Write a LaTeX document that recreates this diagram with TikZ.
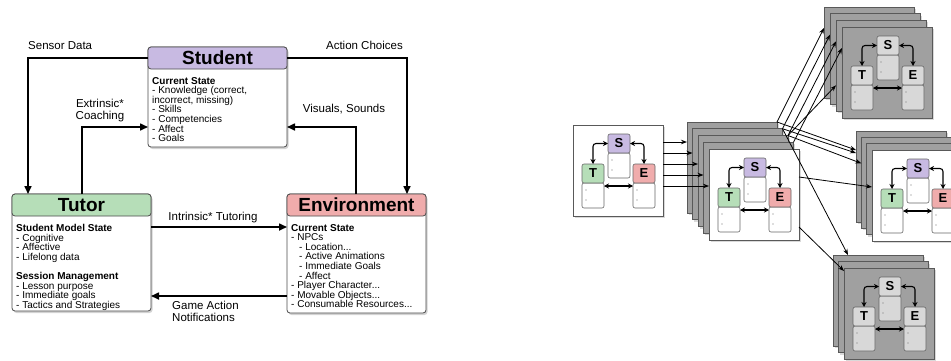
\documentclass[tikz,border=0pt]{standalone}
\usepackage{fontspec}
\setmainfont{Liberation Sans}
\usetikzlibrary{arrows.meta,shadows,calc}

\definecolor{stupurple}{RGB}{200,186,226}
\definecolor{tutgreen}{RGB}{182,222,184}
\definecolor{envpink}{RGB}{240,172,172}
\definecolor{stackgray}{RGB}{160,160,160}
\definecolor{minigray}{RGB}{216,216,216}

\tikzset{
  box/.style={draw=black!70, line width=0.8pt, rounded corners=3pt, fill=white,
    drop shadow={shadow xshift=1.5pt, shadow yshift=-2pt, opacity=0.35},
    minimum width=139pt, anchor=north west, inner sep=0pt, outer sep=0pt},
  head/.style={draw=black!70, line width=0.8pt, rounded corners=3pt,
    minimum width=139pt, minimum height=22pt, anchor=north west, inner sep=0pt,
    outer sep=0pt, font=\bfseries\fontsize{19}{19}\selectfont},
  body/.style={anchor=north west, align=left, inner sep=0pt,
    font=\fontsize{10}{9.6}\selectfont},
  lbl/.style={inner sep=0pt, font=\fontsize{11.5}{11.8}\selectfont},
  arr/.style={line width=1.6pt, -{Triangle[length=8pt,width=7pt]}},
  frame/.style={draw=black!65, line width=0.6pt, anchor=north west,
    minimum width=90pt, minimum height=91pt, inner sep=0pt, outer sep=0pt,
    drop shadow={shadow xshift=1.5pt, shadow yshift=-2pt, opacity=0.3}},
  minihead/.style={draw=black!60, line width=0.6pt, rounded corners=2pt,
    anchor=north west, minimum width=22pt, minimum height=19pt, inner sep=0pt,
    outer sep=0pt, font=\bfseries\fontsize{13}{13}\selectfont},
  minibody/.style={draw=black!60, line width=0.6pt, rounded corners=2pt,
    anchor=north west, minimum width=22pt, minimum height=25pt, inner sep=0pt,
    outer sep=0pt},
  miniarr/.style={line width=1.1pt, rounded corners=3pt,
    {Stealth[length=5pt,width=5pt]}-{Stealth[length=5pt,width=5pt]}},
  arr2/.style={line width=0.8pt, -{Stealth[length=6pt,width=4.5pt]}}
}

% one T-S-E frame: name, x, y, frame fill, S fill, T fill, E fill, body fill
\newcommand{\tseframe}[8]{%
  \node[frame, fill=#4] (#1) at (#2,#3) {};
  \begin{scope}[shift={(#2,#3)}]
    \node[minibody, fill=#8] (#1-sb) at (35,28) {};
    \node[minihead, fill=#5] (#1-sh) at (35,9) {S};
    \node[minibody, fill=#8] (#1-tb) at (9,58) {};
    \node[minihead, fill=#6] (#1-th) at (9,39) {T};
    \node[minibody, fill=#8] (#1-eb) at (60,58) {};
    \node[minihead, fill=#7] (#1-eh) at (60,39) {E};
  \end{scope}
  \foreach \b in {sb,tb,eb} {
    \fill[black!55] ([xshift=4pt,yshift=-7pt]#1-\b.north west) circle (0.6pt);
    \fill[black!55] ([xshift=4pt,yshift=-17pt]#1-\b.north west) circle (0.6pt);
  }
  \draw[miniarr] (#1-th.north) |- (#1-sh.west);
  \draw[miniarr] (#1-sh.east) -| (#1-eh.north);
  \draw[miniarr] ([yshift=-3pt]#1-tb.north east) -- ([yshift=-3pt]#1-eb.north west);
}

\begin{document}
\begin{tikzpicture}[x=1pt, y=-1pt]
  \path[use as bounding box, clip] (0,0) rectangle (951,360);

  % left: student / tutor / environment
  \node[box, minimum height=100pt] (stu) at (148,47) {};
  \node[head, fill=stupurple] (stuh) at (148,47) {Student};
  \node[body] (stub) at (152,77) {\textbf{Current State}\\
    - Knowledge (correct,\\ incorrect, missing)\\ - Skills\\ - Competencies\\
    - Affect\\ - Goals};

  \node[box, minimum height=117pt] (tut) at (12,194) {};
  \node[head, fill=tutgreen] (tuth) at (12,194) {Tutor};
  \node[body] (tutb) at (16,224) {\textbf{Student Model State}\\
    - Cognitive\\ - Affective\\ - Lifelong data\\[9.6pt]
    \textbf{Session Management}\\ - Lesson purpose\\ - Immediate goals\\
    - Tactics and Strategies};

  \node[box, minimum height=119pt] (env) at (287,194) {};
  \node[head, fill=envpink] (envh) at (287,194) {Environment};
  \node[body] (envb) at (291,224) {\textbf{Current State}\\ - NPCs\\
    \hspace*{8pt}- Location...\\ \hspace*{8pt}- Active Animations\\
    \hspace*{8pt}- Immediate Goals\\ \hspace*{8pt}- Affect\\
    - Player Character...\\ - Movable Objects...\\ - Consumable Resources...};

  % connectors
  \draw[arr] ([yshift=-11pt]stu.north west) -| ([xshift=16pt]tut.north west);
  \draw[arr] ([yshift=-11pt]stu.north east) -| ([xshift=-19pt]env.north east);
  \draw[arr] ([xshift=70pt]tut.north west) |- ([yshift=20pt]stu.south west);
  \draw[arr] ([xshift=69pt]env.north west) |- ([yshift=20pt]stu.south east);
  \draw[arr] ([yshift=-33pt]tut.north east) -- ([yshift=-33pt]env.north west);
  \draw[arr] ([yshift=-102pt]env.north west) -- ([yshift=-102pt]tut.north east);

  \node[lbl, anchor=base west] (lsensor) at (28,49) {Sensor Data};
  \node[lbl, anchor=base east] (laction) at (403,49) {Action Choices};
  \node[lbl, anchor=north, align=center] (lcoach) at (100,99) {Extrinsic*\\Coaching};
  \node[lbl, anchor=base] (lvisual) at (344,112) {Visuals, Sounds};
  \node[lbl, anchor=base] (ltutor) at (213,220) {Intrinsic* Tutoring};
  \node[lbl, anchor=north west, align=left] (lgame) at (172,301) {Game Action\\Notifications};

  % right: branching states
  \tseframe{init}{573}{125}{white}{stupurple}{tutgreen}{envpink}{white}

  \foreach \i in {0,...,3}
    \node[frame, fill=stackgray] (mid\i) at ({687+5.5*\i},{122+6.75*\i}) {};
  \tseframe{mid4}{709}{149}{white}{stupurple}{tutgreen}{envpink}{white}

  \foreach \i in {0,...,2}
    \node[frame, fill=stackgray] (tr\i) at ({824+6*\i},{7+6.67*\i}) {};
  \tseframe{tr3}{842}{27}{stackgray}{minigray}{minigray}{minigray}{minigray}

  \foreach \i in {0,...,2}
    \node[frame, fill=stackgray] (mr\i) at ({856+5.33*\i},{131+6.33*\i}) {};
  \tseframe{mr3}{872}{150}{white}{stupurple}{tutgreen}{envpink}{white}

  \foreach \i in {0,1}
    \node[frame, fill=stackgray] (br\i) at ({833+5.5*\i},{255+6.5*\i}) {};
  \tseframe{br2}{844}{268}{stackgray}{minigray}{minigray}{minigray}{minigray}

  % arrows between frames
  \foreach \i in {0,...,4} {
    \coordinate (o\i) at ($(init.north east)+(0,{17+11*\i})$);
    \draw[arr2] (o\i) -- (o\i -| mid\i.west);
  }
  \foreach \i in {0,...,3}
    \draw[arr2] (mid\i.north east) -- ([yshift=-21pt]tr\i.north west);
  \draw[arr2] (mid2.north east) -- ([yshift=-65pt]tr2.north west);
  \draw[arr2] (mid0.north east) -- ([yshift=-19pt]mr0.north west);
  \draw[arr2] (mid1.north east) -- ([yshift=-22pt]mr0.north west);
  \draw[arr2] (mid2.north east) -- ([yshift=-26pt]mr1.north west);
  \draw[arr2] ([yshift=-28pt]mid4.north east) -- ([yshift=-37pt]mr3.north west);
  \draw[arr2] (mid1.north east) -- ([xshift=15pt]br0.north west);
  \draw[arr2] ([yshift=-78pt]mid4.north east) -- ([yshift=-3pt]br2.north west);
\end{tikzpicture}
\end{document}
